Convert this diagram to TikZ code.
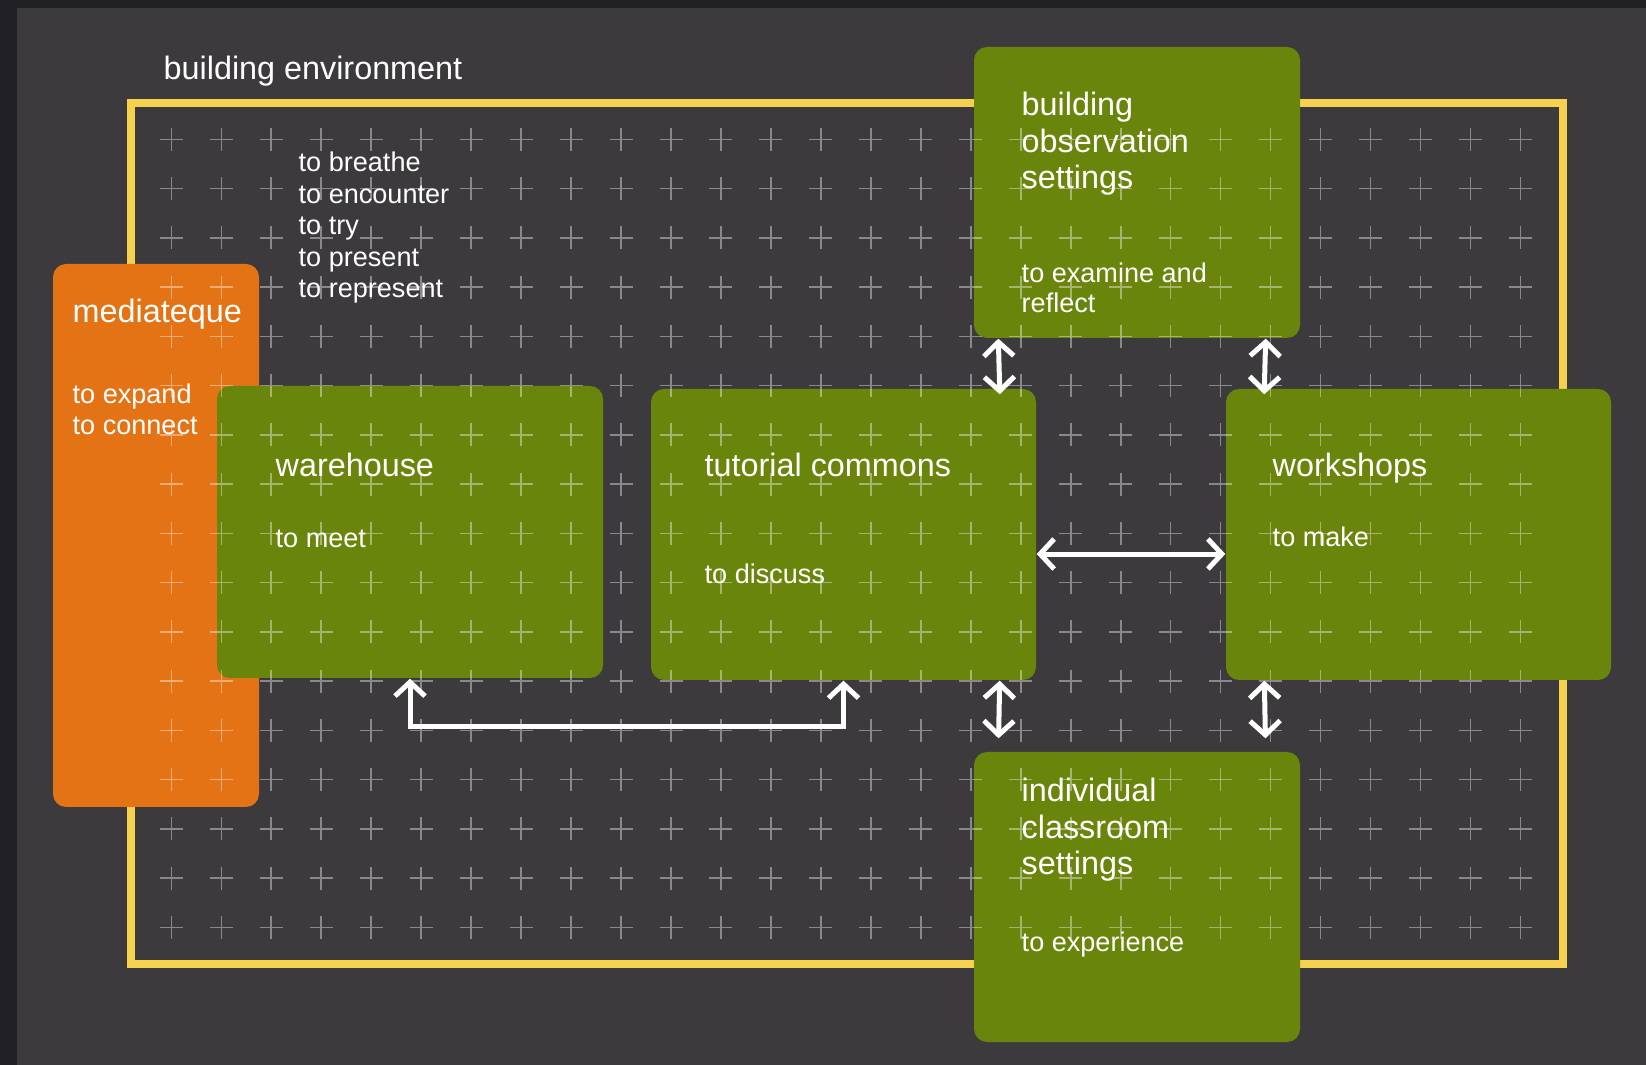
\documentclass[tikz,border=0pt]{standalone}
\usepackage{fontspec}
\setmainfont{Liberation Sans}
\usepackage{tikz}
\usetikzlibrary{arrows.meta}
\usetikzlibrary{fit}
\definecolor{bgdark}{HTML}{212024}
\definecolor{bgmain}{HTML}{3C3A3D}
\definecolor{frameyellow}{HTML}{F6D14F}
\definecolor{roomgreen}{HTML}{6A850C}
\definecolor{roomorange}{HTML}{E47316}
\tikzset{room/.style = {fill=roomgreen, draw=none, rounded corners=0.13cm, inner sep=0}}
\tikzset{media/.style = {room, fill=roomorange}}
\tikzset{title/.style = {text=white, anchor=base west, inner sep=0, align=left,
                         font=\fontsize{9.2}{10.5}\selectfont}}
\tikzset{verbs/.style = {title, font=\fontsize{7.7}{9.0}\selectfont}}
\tikzset{plus/.style = {white, opacity=0.4, line width=0.015cm}}
\tikzset{link/.style = {white, line width=0.05cm, >={Straight Barb[length=0.14cm, width=0.3cm]}, <->}}

\begin{document}
\begin{tikzpicture}[x=0.01cm, y=-0.01cm]
      \fill [bgdark] (0, 0) rectangle (1646, 1065);
      \fill [bgmain] (17, 8) rectangle (1646, 1065);
      \useasboundingbox (0, 0) rectangle (1646, 1065);
      \draw [frameyellow, line width=0.08cm] (131, 103) rectangle (1563, 964);

      \node [media, fit={(53, 264) (259, 807)}] (media) {};
      \node [room, fit={(217, 386) (603, 678)}] (ware) {};
      \node [room, fit={(651, 389) (1036, 680)}] (tut) {};
      \node [room, fit={(1226, 389) (1611, 680)}] (ws) {};
      \node [room, fit={(974, 47) (1300, 338)}] (obs) {};
      \node [room, fit={(974, 752) (1300, 1042)}] (cls) {};

      \foreach \i in {0,...,27}
        \foreach \j in {0,...,16}
          \draw [plus] (171.3 + 49.97*\i, 139.3 + 49.25*\j) +(-11.5, 0) -- +(11.5, 0) +(0, -11.5) -- +(0, 11.5);

      % multi-line texts sit on the baseline of their last line
      \node [title] (envname) at (163, 80) {building environment};
      \node [verbs] (freeverbs) at (298, 298) {to breathe\\to encounter\\to try\\to present\\to represent};
      \node [title] (medianame) at (72, 323) {mediateque};
      \node [verbs] (mediaverbs) at (72, 435) {to expand\\to connect};
      \node [title] (warename) at (275, 477) {warehouse};
      \node [verbs] (wareverbs) at (275, 548) {to meet};
      \node [title] (tutname) at (704, 477) {tutorial commons};
      \node [verbs] (tutverbs) at (704, 584) {to discuss};
      \node [title] (wsname) at (1272, 477) {workshops};
      \node [verbs] (wsverbs) at (1272, 547) {to make};
      \node [title] (obsname) at (1021, 189) {building\\observation\\settings};
      \node [verbs, font=\fontsize{7.7}{8.8}\selectfont] (obsverbs) at (1021, 313) {to examine and\\reflect};
      \node [title] (clsname) at (1021, 875) {individual\\classroom\\settings};
      \node [verbs] (clsverbs) at (1021, 952) {to experience};

      \draw [link, shorten >=-0.06cm] ([xshift=0.25cm]obs.south west) -- ([xshift=-0.37cm]tut.north east);
      \draw [link, shorten >=-0.06cm] ([xshift=-0.35cm]obs.south east) -- ([xshift=0.39cm]ws.north west);
      \draw [link, shorten >=0.13cm] ([xshift=-0.37cm]tut.south east) -- ([xshift=0.25cm]cls.north west);
      \draw [link, shorten >=0.13cm] ([xshift=0.39cm]ws.south west) -- ([xshift=-0.35cm]cls.north east);
      \draw [link] ([yshift=-0.195cm]tut.east) -- ([yshift=-0.195cm]ws.west);
      \draw [link] (ware.south) -- ++(0, 48) -| (tut.south);
    \end{tikzpicture}
\end{document}
